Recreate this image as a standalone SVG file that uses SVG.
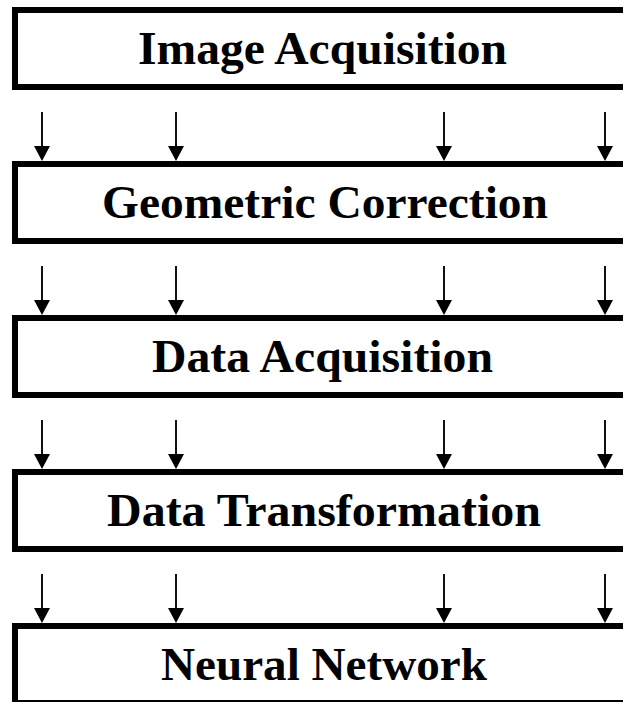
<svg xmlns="http://www.w3.org/2000/svg" width="623" height="702" viewBox="0 0 623 702">
  <defs>
    <style>
      .stage { fill: #ffffff; stroke: #000000; stroke-width: 6; }
      .label { font-family: "Liberation Serif", "Times New Roman", serif; font-weight: bold; font-size: 47px; fill: #000000; text-anchor: middle; }
      .shaft { stroke: #111111; stroke-width: 2; fill: none; }
      .head { fill: #000000; }
    </style>
    <!-- one downward arrow, tip at origin -->
    <g id="arrow">
      <line class="shaft" x1="0" y1="-49" x2="0" y2="-12"/>
      <path class="head" d="M-8,-15 L8,-15 L0,0 Z"/>
    </g>
    <!-- a row of four arrows between stages -->
    <g id="arrowRow">
      <use href="#arrow" x="42" y="0"/>
      <use href="#arrow" x="176" y="0"/>
      <use href="#arrow" x="444" y="0"/>
      <use href="#arrow" x="605" y="0"/>
    </g>
  </defs>
  <rect width="623" height="702" fill="#ffffff"/>

  <g id="connectors">
    <use href="#arrowRow" y="161"/>
    <use href="#arrowRow" y="315"/>
    <use href="#arrowRow" y="469"/>
    <use href="#arrowRow" y="623"/>
  </g>

  <g id="image-acquisition">
    <rect class="stage" x="15" y="10" width="620" height="77"/>
    <text class="label" x="322.5" y="64" textLength="369" lengthAdjust="spacingAndGlyphs">Image Acquisition</text>
  </g>
  <g id="geometric-correction">
    <rect class="stage" x="15" y="164" width="620" height="77"/>
    <text class="label" x="325" y="218" textLength="446" lengthAdjust="spacingAndGlyphs">Geometric Correction</text>
  </g>
  <g id="data-acquisition">
    <rect class="stage" x="15" y="318" width="620" height="77"/>
    <text class="label" x="322.5" y="372" textLength="341" lengthAdjust="spacingAndGlyphs">Data Acquisition</text>
  </g>
  <g id="data-transformation">
    <rect class="stage" x="15" y="472" width="620" height="77"/>
    <text class="label" x="324" y="526" textLength="434" lengthAdjust="spacingAndGlyphs">Data Transformation</text>
  </g>
  <g id="neural-network">
    <rect class="stage" x="15" y="626" width="620" height="77"/>
    <text class="label" x="324" y="680" textLength="326" lengthAdjust="spacingAndGlyphs">Neural Network</text>
  </g>
</svg>
